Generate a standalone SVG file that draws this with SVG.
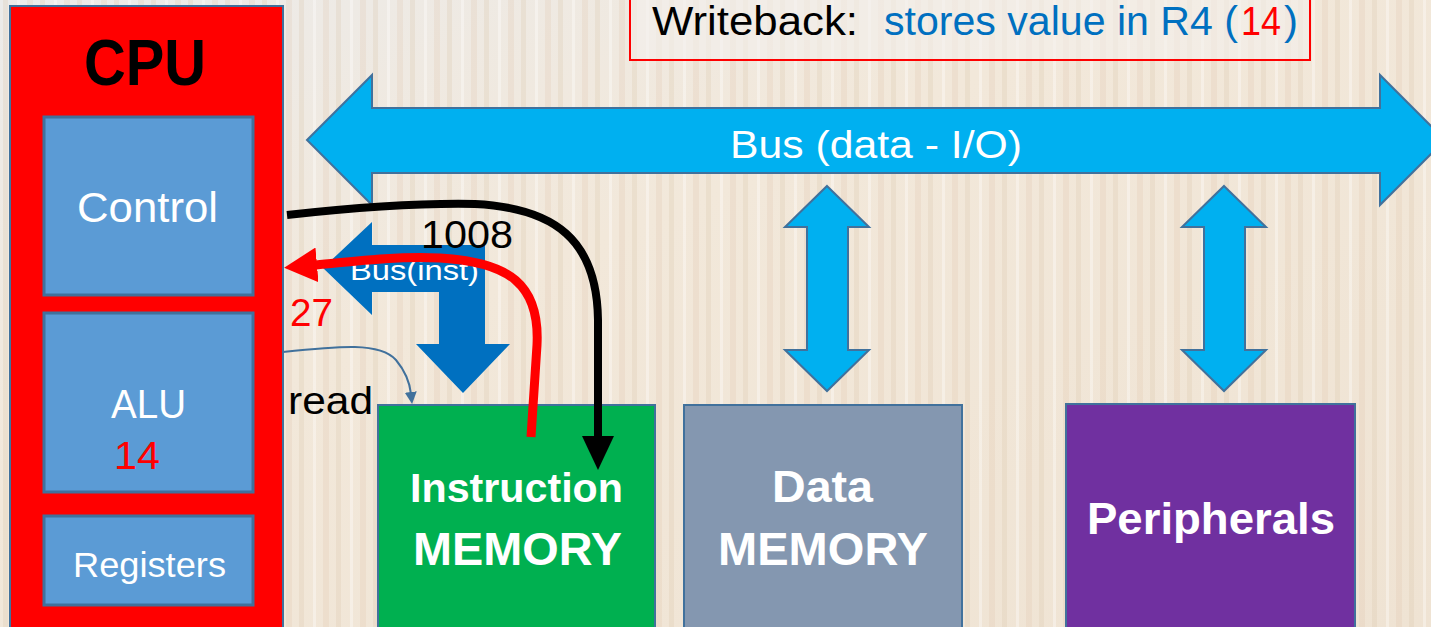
<svg xmlns="http://www.w3.org/2000/svg" width="1431" height="627" viewBox="0 0 1431 627">
<style>
.t{font-family:"Liberation Sans",Arial,sans-serif}
.w{fill:#ffffff}
.b{font-weight:bold}
.box{stroke:#41719c;stroke-width:2}
.sub{fill:#5b9bd5;stroke:#41719c;stroke-width:3}
.bus{fill:#00b0f0;stroke:#41719c;stroke-width:2}
</style>
<defs>
<linearGradient id="bg" x1="0" y1="0" x2="1" y2="1">
<stop offset="0" stop-color="#ecebea"/>
<stop offset="0.4" stop-color="#f2e8da"/>
<stop offset="1" stop-color="#efe3d3"/>
</linearGradient>
<pattern id="stripes" width="37" height="627" patternUnits="userSpaceOnUse">
<rect x="3" y="0" width="5" height="627" fill="#d9c3a8" opacity="0.25"/>
<rect x="17" y="0" width="3" height="627" fill="#ffffff" opacity="0.35"/>
<rect x="27" y="0" width="6" height="627" fill="#d7b99a" opacity="0.18"/>
</pattern>
<marker id="ahBlack" markerUnits="userSpaceOnUse" viewBox="0 0 34 32" refX="1" refY="16" markerWidth="34" markerHeight="32" orient="auto">
<path d="M0,0 L34,16 L0,32 z" fill="#000000"/>
</marker>
<marker id="ahRed" markerUnits="userSpaceOnUse" viewBox="0 0 33 35" refX="1" refY="17.5" markerWidth="33" markerHeight="35" orient="auto">
<path d="M0,0 L33,17.5 L0,35 z" fill="#ff0000"/>
</marker>
<marker id="ahRead" markerUnits="userSpaceOnUse" viewBox="0 0 12 12" refX="2" refY="6" markerWidth="12" markerHeight="12" orient="auto">
<path d="M0,0 L12,6 L0,12 z" fill="#41719c"/>
</marker>
</defs>

<g id="background">
<rect x="0" y="0" width="1431" height="627" fill="url(#bg)"/>
<rect x="0" y="0" width="1431" height="627" fill="url(#stripes)"/>
</g>

<g id="writeback">
<rect x="630" y="-5" width="680" height="65" fill="#f4f0ec" fill-opacity="0.6" stroke="#ff0000" stroke-width="2"/>
<text class="t" x="652" y="35" font-size="40" fill="#000000" textLength="206" lengthAdjust="spacingAndGlyphs">Writeback:</text>
<text class="t" x="884" y="35" font-size="40" fill="#0070c0" textLength="354" lengthAdjust="spacingAndGlyphs">stores value in R4 (</text>
<text class="t" x="1241" y="35" font-size="40" fill="#ff0000" textLength="40" lengthAdjust="spacingAndGlyphs">14</text>
<text class="t" x="1284" y="35" font-size="40" fill="#0070c0" textLength="14" lengthAdjust="spacingAndGlyphs">)</text>
</g>

<g id="bus-data">
<polygon class="bus" points="307,140 372,75 372,108 1380,108 1380,75 1445,140 1380,205 1380,173 372,173 372,205"/>
<text class="t w" x="730" y="158" font-size="38" textLength="292" lengthAdjust="spacingAndGlyphs">Bus (data - I/O)</text>
</g>

<g id="bus-datamem">
<polygon class="bus" points="827,186 869,227 848,227 848,350 869,350 827,391 785,350 807,350 807,227 785,227"/>
</g>
<g id="bus-periph">
<polygon class="bus" points="1224,186 1266,227 1245,227 1245,350 1266,350 1224,391 1182,350 1204,350 1204,227 1182,227"/>
</g>

<g id="bus-inst">
<polygon points="323,268 372,222 372,245 485,245 485,344 510,344 463,393 416,344 439,344 439,292 372,292 372,315" fill="#0070c0"/>
<text class="t w" x="350" y="280" font-size="28" textLength="129" lengthAdjust="spacingAndGlyphs">Bus(inst)</text>
</g>

<g id="cpu">
<rect x="10" y="6" width="273" height="640" fill="#ff0000" stroke="#41719c" stroke-width="2"/>
<text class="t b" x="84" y="85" font-size="64" fill="#000000" textLength="122" lengthAdjust="spacingAndGlyphs">CPU</text>
</g>
<g id="control">
<rect class="sub" x="44" y="117" width="209" height="178"/>
<text class="t w" x="77" y="222" font-size="42" textLength="141" lengthAdjust="spacingAndGlyphs">Control</text>
</g>
<g id="alu">
<rect class="sub" x="44" y="313" width="209" height="179"/>
<text class="t w" x="111" y="418" font-size="40" textLength="75" lengthAdjust="spacingAndGlyphs">ALU</text>
<text class="t" x="114" y="469" font-size="38" fill="#ff0000" textLength="46" lengthAdjust="spacingAndGlyphs">14</text>
</g>
<g id="registers">
<rect class="sub" x="44" y="516" width="209" height="89"/>
<text class="t w" x="73" y="577" font-size="35" textLength="153" lengthAdjust="spacingAndGlyphs">Registers</text>
</g>

<g id="instruction-memory">
<rect class="box" x="378" y="405" width="277" height="240" fill="#00b050"/>
<text class="t w b" x="410" y="502" font-size="40" textLength="213" lengthAdjust="spacingAndGlyphs">Instruction</text>
<text class="t w b" x="413" y="565" font-size="46" textLength="209" lengthAdjust="spacingAndGlyphs">MEMORY</text>
</g>
<g id="data-memory">
<rect class="box" x="684" y="405" width="278" height="240" fill="#8497b0"/>
<text class="t w b" x="772" y="502" font-size="44" textLength="101" lengthAdjust="spacingAndGlyphs">Data</text>
<text class="t w b" x="718" y="565" font-size="46" textLength="210" lengthAdjust="spacingAndGlyphs">MEMORY</text>
</g>
<g id="peripherals">
<rect class="box" x="1066" y="404" width="289" height="240" fill="#7030a0"/>
<text class="t w b" x="1087" y="534" font-size="44" textLength="248" lengthAdjust="spacingAndGlyphs">Peripherals</text>
</g>

<g id="connectors">
<path d="M283,352 C340,346 380,342 396,360 C406,372 410,385 411,394" fill="none" stroke="#41719c" stroke-width="2" marker-end="url(#ahRead)"/>
<path d="M287,215 C370,206 430,203 475,204 C555,208 597,240 598,320 L598,437" fill="none" stroke="#000000" stroke-width="8" marker-end="url(#ahBlack)"/>
<path d="M531,437 L537,345 C540,285 510,262 440,258 C390,256 350,262 316,265" fill="none" stroke="#ff0000" stroke-width="9" marker-end="url(#ahRed)"/>
</g>

<g id="labels">
<text class="t" x="421" y="248" font-size="38" fill="#000000" textLength="92" lengthAdjust="spacingAndGlyphs">1008</text>
<text class="t" x="290" y="326" font-size="38" fill="#ff0000" textLength="43" lengthAdjust="spacingAndGlyphs">27</text>
<text class="t" x="288" y="414" font-size="38" fill="#000000" textLength="85" lengthAdjust="spacingAndGlyphs">read</text>
</g>
</svg>
